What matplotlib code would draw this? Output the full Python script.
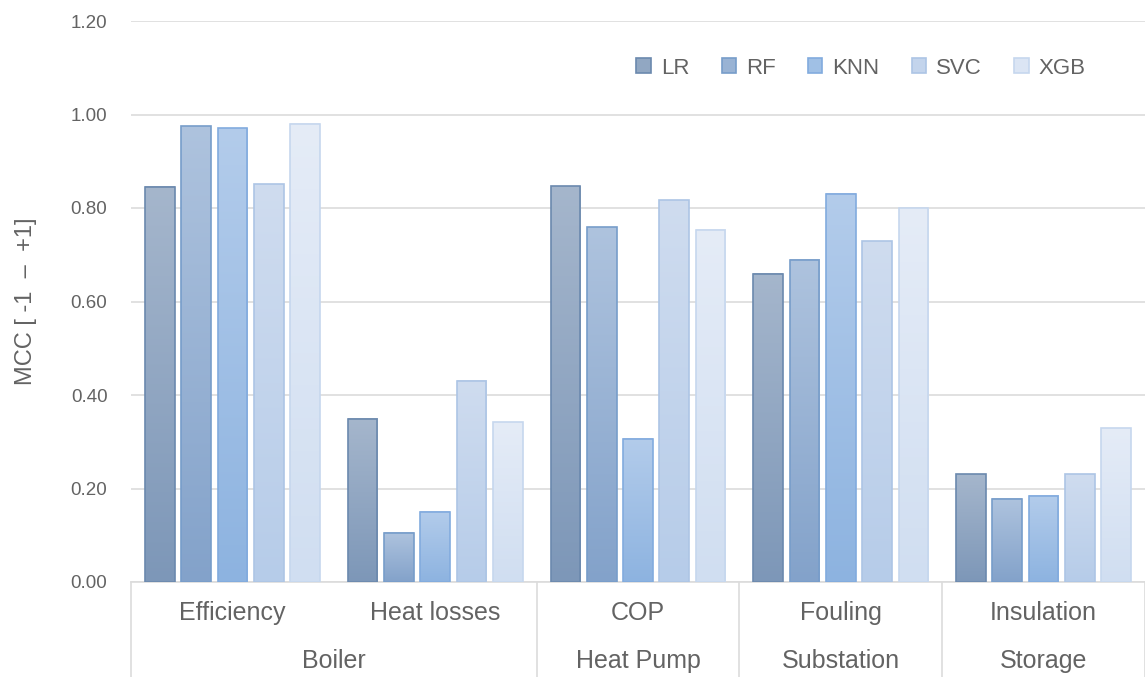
import numpy as np
import matplotlib
matplotlib.use('Agg')
import matplotlib.pyplot as plt
import matplotlib.transforms as mtransforms
from matplotlib.colors import LinearSegmentedColormap

# data
categories = ['Efficiency', 'Heat losses', 'COP', 'Fouling', 'Insulation']
groups = ['Boiler', 'Heat Pump', 'Substation', 'Storage']
group_sizes = [2, 1, 1, 1]
models = ['LR', 'RF', 'KNN', 'SVC', 'XGB']
mcc_lr = [0.845, 0.349, 0.847, 0.659, 0.230]
mcc_rf = [0.975, 0.105, 0.759, 0.689, 0.178]
mcc_knn = [0.971, 0.150, 0.306, 0.830, 0.184]
mcc_svc = [0.851, 0.430, 0.817, 0.729, 0.231]
mcc_xgb = [0.980, 0.342, 0.753, 0.800, 0.329]
yticks = [0.0, 0.2, 0.4, 0.6, 0.8, 1.0, 1.2]

# (bottom, top, edge) colours of the gradient fills
styles = [
    ('#7d97b8', '#a5b6cc', '#6b89ae'),
    ('#83a2ca', '#aec3de', '#779dca'),
    ('#8db3e0', '#b3cceb', '#82abde'),
    ('#b6cce9', '#cfdcef', '#adc5e5'),
    ('#d0def1', '#e5ecf7', '#c6d7ee'),
]

TXT = '#636363'
GRID = '#dcdcdc'
plt.rcParams['font.family'] = ['Liberation Sans', 'DejaVu Sans']

fig = plt.figure(figsize=(11.45, 6.77), dpi=100)
ax = fig.add_axes([131 / 1145, 95 / 677, 1014 / 1145, 561 / 677])

series = [mcc_lr, mcc_rf, mcc_knn, mcc_svc, mcc_xgb]
x = np.arange(len(categories))
step = 0.179
width = 0.146
containers = []
for i, (vals, (c0, c1, ce)) in enumerate(zip(series, styles)):
    mid = tuple((np.array(matplotlib.colors.to_rgb(c0)) + np.array(matplotlib.colors.to_rgb(c1))) / 2)
    bars = ax.bar(x + (i - 2) * step, vals, width, color=mid, edgecolor=ce,
                  linewidth=1.2, label=models[i], zorder=3)
    containers.append(bars)
    cmap = LinearSegmentedColormap.from_list('g%d' % i, [c0, c1])
    grad = np.linspace(0, 1, 256).reshape(-1, 1)
    for p in bars.patches:
        x0, y0 = p.get_x(), p.get_y()
        ax.imshow(grad, cmap=cmap, origin='lower', aspect='auto', zorder=3.5,
                  extent=[x0, x0 + p.get_width(), y0, y0 + p.get_height()])

leg = ax.legend(ncol=5, loc='center', bbox_to_anchor=(0.72, 0.916), frameon=False,
                fontsize=16, handlelength=0.65, handleheight=0.65, handletextpad=0.45,
                columnspacing=1.45, labelcolor=TXT)

# outline on top of gradient
for bars in containers:
    for p in bars.patches:
        p.set_facecolor('none')
        p.set_zorder(4)

ax.set_xlim(-0.5, len(categories) - 0.5)
ax.set_ylim(0, 1.2)
ax.set_yticks(yticks, ['%.2f' % v for v in yticks])
ax.tick_params(axis='y', length=0, pad=17, labelsize=13.5, labelcolor=TXT)
ax.yaxis.grid(True, color=GRID, linewidth=1.2)
ax.set_axisbelow(True)
for s in ['left', 'right', 'top']:
    ax.spines[s].set_visible(False)
ax.spines['bottom'].set_color(GRID)
ax.spines['bottom'].set_linewidth(1.2)

ax.set_xticks(x, categories)
ax.tick_params(axis='x', length=0, pad=14, labelsize=18, labelcolor=TXT)

ax.set_ylabel('MCC [ -1  \u2013  +1]', fontsize=17, color=TXT)
ax.yaxis.set_label_coords(-0.093, 0.5)

# outer category level
trans = mtransforms.blended_transform_factory(ax.transData, ax.transAxes)
start = -0.5
ax.plot([start, start], [0, -0.2], transform=trans, color=GRID, lw=1.2, clip_on=False)
for g, n in zip(groups, group_sizes):
    end = start + n
    ax.text((start + end) / 2, -79 / 561, g, transform=trans, ha='center', va='center',
            fontsize=18, color=TXT)
    ax.plot([end, end], [0, -0.2], transform=trans, color=GRID, lw=1.2, clip_on=False)
    start = end

fig.savefig('out.png', dpi=100)
